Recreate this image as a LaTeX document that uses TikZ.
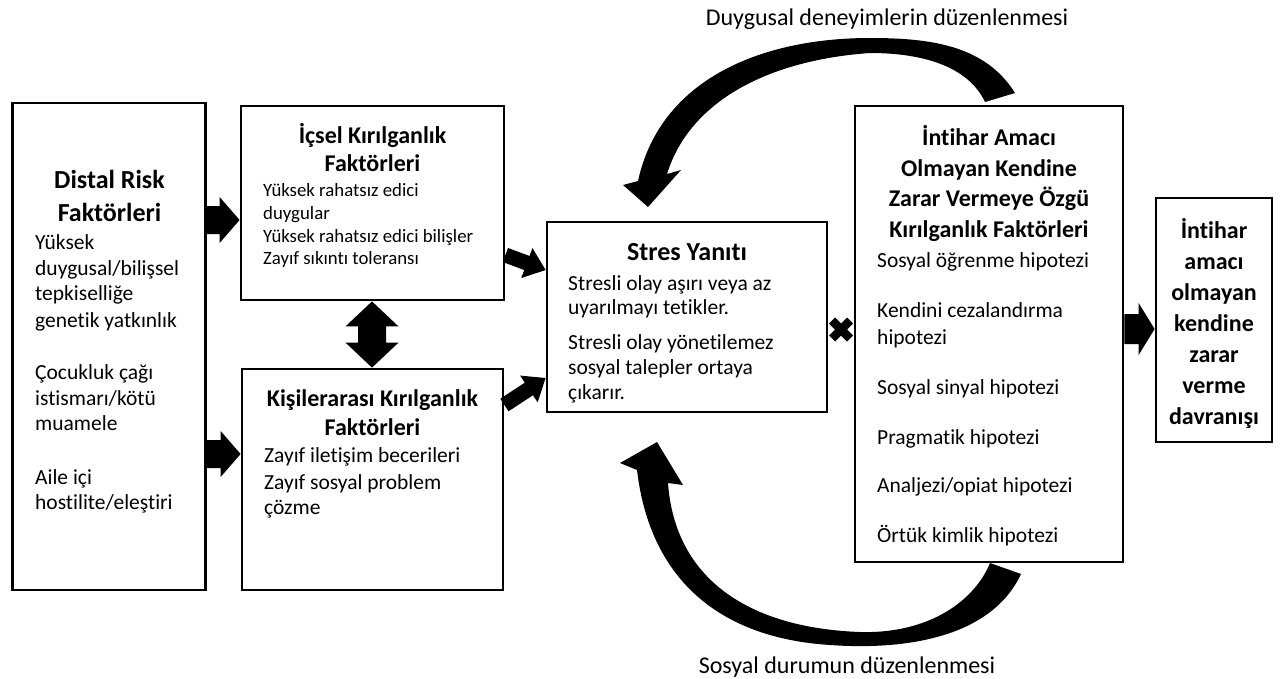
\documentclass[tikz,border=0pt]{standalone}
\usepackage{fontspec}
\setmainfont{Carlito}[Ligatures=NoCommon]
\usetikzlibrary{calc}
\newcommand\fatarrow[5]{%
  \coordinate (fah) at ($(#2)!#5!(#1)$);
  \fill ($(#1)!#3!90:(#2)$) -- ($(fah)!#3!-90:(#1)$) -- ($(fah)!#4!-90:(#1)$) -- (#2)
    -- ($(fah)!#4!90:(#1)$) -- ($(fah)!#3!90:(#1)$) -- ($(#1)!#3!-90:(#2)$) -- cycle;}
\newcommand\fatdarrow[5]{%
  \coordinate (fahA) at ($(#1)!#5!(#2)$);
  \coordinate (fahB) at ($(#2)!#5!(#1)$);
  \fill (#1) -- ($(fahA)!#4!90:(#2)$) -- ($(fahA)!#3!90:(#2)$) -- ($(fahB)!#3!-90:(#1)$)
    -- ($(fahB)!#4!-90:(#1)$) -- (#2) -- ($(fahB)!#4!90:(#1)$) -- ($(fahB)!#3!90:(#1)$)
    -- ($(fahA)!#3!-90:(#2)$) -- ($(fahA)!#4!-90:(#2)$) -- cycle;}
\tikzset{
  box/.style={draw=black, line width=2.8pt, inner sep=0pt, fill=white},
  ttl/.style={font=\fontsize{26}{31}\selectfont\bfseries, inner sep=0pt, anchor=base},
  ttls/.style={font=\fontsize{24}{29}\selectfont\bfseries, inner sep=0pt, anchor=base},
  bdy/.style={font=\fontsize{21.5}{26}\selectfont, inner sep=0pt, anchor=base west},
  bdys/.style={font=\fontsize{18.8}{22}\selectfont, inner sep=0pt, anchor=base west},
  lbl/.style={font=\fontsize{24}{29}\selectfont, inner sep=0pt, anchor=base},
}
\begin{document}
\begin{tikzpicture}[x=1pt,y=-1pt]
\useasboundingbox (0,0) rectangle (1281,678);
% boxes
\node[box, minimum width=193pt, minimum height=487pt] (distal) at (109,346.5) {};
\node[box, minimum width=263pt, minimum height=194pt] (icsel) at (372.5,203) {};
\node[box, minimum width=261pt, minimum height=221pt] (kisi) at (372.5,479.5) {};
\node[box, minimum width=280pt, minimum height=190pt] (stres) at (687,317) {};
\node[box, minimum width=268pt, minimum height=456pt] (intihar) at (989,334) {};
\node[box, minimum width=116pt, minimum height=244pt] (sonuc) at (1214,320) {};
% distal texts
\node[ttl] (d1) at (109.5,188) {Distal Risk};
\node[ttl] (d2) at (109.5,221) {Faktörleri};
\node[bdy] (d3) at (35,249) {Yüksek};
\node[bdy] (d4) at (35,275) {duygusal/bilişsel};
\node[bdy] (d5) at (35,300) {tepkiselliğe};
\node[bdy] (d6) at (35,327) {genetik yatkınlık};
\node[bdy] (d7) at (35,379) {Çocukluk çağı};
\node[bdy] (d8) at (35,405) {istismarı/kötü};
\node[bdy] (d9) at (35,430) {muamele};
\node[bdy] (d10) at (35,484) {Aile içi};
\node[bdy] (d11) at (35,509) {hostilite/eleştiri};
% icsel texts
\node[ttls] (i1) at (372.5,143) {İçsel Kırılganlık};
\node[ttls] (i2) at (372.5,171) {Faktörleri};
\node[bdys] (i3) at (263,196) {Yüksek rahatsız edici};
\node[bdys] (i4) at (263,219) {duygular};
\node[bdys] (i5) at (263,242) {Yüksek rahatsız edici bilişler};
\node[bdys] (i6) at (263,264) {Zayıf sıkıntı toleransı};
% kisilerarasi texts
\node[ttls] (k1) at (372.5,406) {Kişilerarası Kırılganlık};
\node[ttls] (k2) at (372.5,435) {Faktörleri};
\node[bdy] (k3) at (264,462) {Zayıf iletişim becerileri};
\node[bdy] (k4) at (264,489) {Zayıf sosyal problem};
\node[bdy] (k5) at (264,514) {çözme};
% stres texts
\node[ttl] (s1) at (687,260) {Stres Yanıtı};
\node[bdy] (s2) at (568,290) {Stresli olay aşırı veya az};
\node[bdy] (s3) at (568,314) {uyarılmayı tetikler.};
\node[bdy] (s4) at (568,349) {Stresli olay yönetilemez};
\node[bdy] (s5) at (568,374) {sosyal talepler ortaya};
\node[bdy] (s6) at (568,399) {çıkarır.};
% intihar texts
\node[ttls] (n1) at (989,145) {İntihar Amacı};
\node[ttls] (n2) at (989,176) {Olmayan Kendine};
\node[ttls] (n3) at (989,206) {Zarar Vermeye Özgü};
\node[ttls] (n4) at (989,237) {Kırılganlık Faktörleri};
\node[bdy] (n5) at (877,267) {Sosyal öğrenme hipotezi};
\node[bdy] (n6) at (877,317) {Kendini cezalandırma};
\node[bdy] (n7) at (877,344) {hipotezi};
\node[bdy] (n8) at (877,394) {Sosyal sinyal hipotezi};
\node[bdy] (n9) at (877,444) {Pragmatik hipotezi};
\node[bdy] (n10) at (877,492) {Analjezi/opiat hipotezi};
\node[bdy] (n11) at (877,542) {Örtük kimlik hipotezi};
% outcome texts
\node[ttls] (o1) at (1214,238) {İntihar};
\node[ttls] (o2) at (1214,269) {amacı};
\node[ttls] (o3) at (1214,300) {olmayan};
\node[ttls] (o4) at (1214,331) {kendine};
\node[ttls] (o5) at (1214,362) {zarar};
\node[ttls] (o6) at (1214,393) {verme};
\node[ttls] (o7) at (1214,424) {davranışı};
% curved arrow labels
\node[lbl] (lt) at (887,25) {Duygusal deneyimlerin düzenlenmesi};
\node[lbl] (lb) at (847,673) {Sosyal durumun düzenlenmesi};
% straight fat arrows
\coordinate (a1s) at (distal.east |- 0,220);
\coordinate (a1e) at (icsel.west |- 0,220);
\fatarrow{a1s}{a1e}{14pt}{23pt}{20pt}
\coordinate (a2s) at (distal.east |- 0,454);
\coordinate (a2e) at (kisi.west |- 0,454);
\fatarrow{a2s}{a2e}{14pt}{23pt}{20pt}
\coordinate (a3s) at (icsel.east |- 0,255);
\coordinate (a3e) at (stres.west |- 0,270);
\fatarrow{a3s}{a3e}{7.5pt}{16pt}{20pt}
\coordinate (a4s) at (kisi.east |- 0,405);
\coordinate (a4e) at (stres.west |- 0,378);
\fatarrow{a4s}{a4e}{7.5pt}{16pt}{20pt}
\coordinate (a5s) at (intihar.east |- 0,329);
\coordinate (a5e) at (sonuc.west |- 0,329);
\fatarrow{a5s}{a5e}{15pt}{26pt}{16pt}
\coordinate (dds) at (icsel.south -| 372,0);
\coordinate (dde) at (kisi.north -| 372,0);
\fatdarrow{dds}{dde}{14pt}{26.5pt}{25pt}
% cross marker
\coordinate (cross) at ($(stres.east)!0.5!(intihar.west) + (0,4)$);
\draw[line width=8.5pt] ($(cross)+(-9,-9)$) -- ($(cross)+(9,9)$)
  ($(cross)+(-9,9)$) -- ($(cross)+(9,-9)$);
% curved arrows
\fill (1015,93) .. controls (985,45) and (930,38) .. (870,38)
  .. controls (760,38) and (660,80) .. (638,181) -- (623,185) -- (648,207) -- (681,170)
  -- (667,174) .. controls (690,100) and (770,60) .. (870,53)
  .. controls (930,53) and (970,70) .. (985,102) -- cycle;
\fill (1021,574) .. controls (990,640) and (900,650) .. (830,645)
  .. controls (720,638) and (650,580) .. (637,470) -- (620,463) -- (657,442) -- (683,485)
  -- (668,483) .. controls (675,580) and (750,628) .. (860,632)
  .. controls (930,634) and (975,600) .. (990,563) -- cycle;
\end{tikzpicture}
\end{document}
